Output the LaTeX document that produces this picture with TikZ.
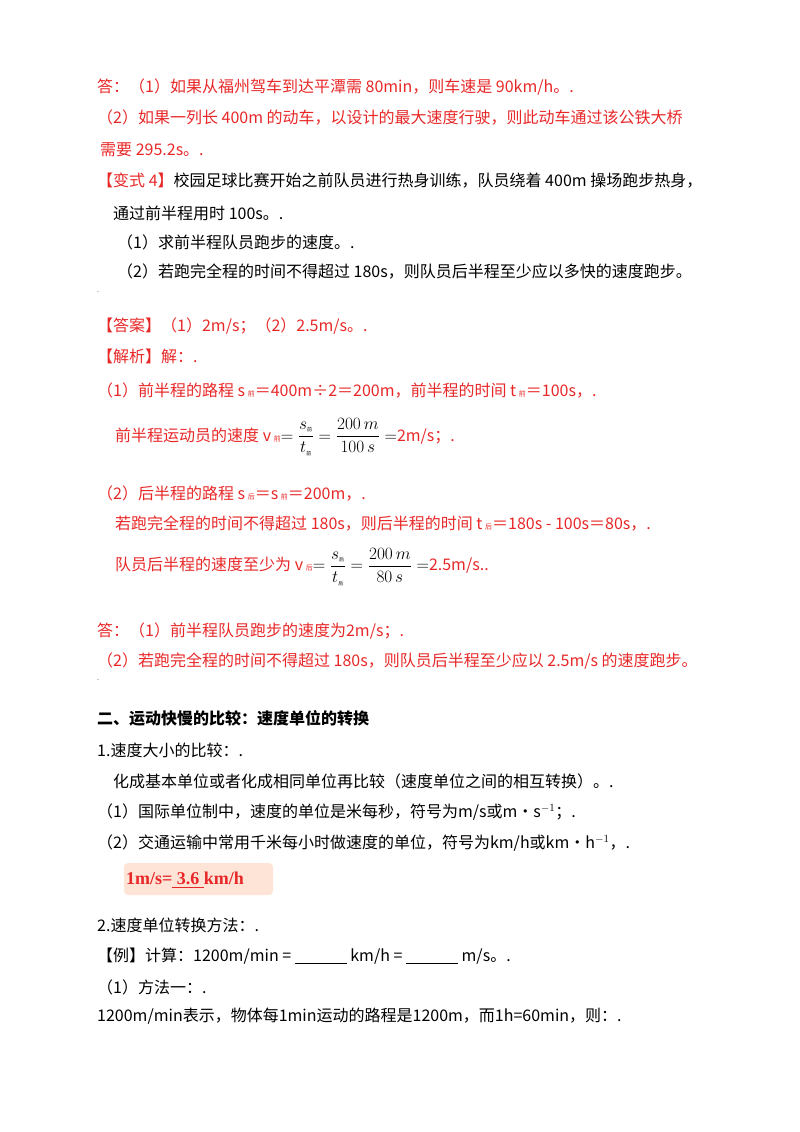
\documentclass[tikz,border=0pt]{standalone}
\usepackage{fontspec}
\setmainfont{Noto Sans CJK SC}
\newfontfamily\lat{Liberation Serif}
\usepackage{amsmath}
\definecolor{rd}{RGB}{232,40,40}
\definecolor{bx}{RGB}{253,228,214}
\begin{document}
\begin{tikzpicture}[x=1pt,y=-1pt,
  t/.style={anchor=west,inner sep=0pt,font=\fontsize{16}{18}\selectfont},
  r/.style={t,text=rd}]
\useasboundingbox (0,0) rectangle (800,1132);
\node[r] (l1) at (97,87) {答：（1）如果从福州驾车到达平潭需 80min，则车速是 90km/h。.};
\node[r] (l2) at (97,118) {（2）如果一列长 400m 的动车，以设计的最大速度行驶，则此动车通过该公铁大桥};
\node[r] (l3) at (100,150) {需要 295.2s。.};
\node[t] (l4) at (97,181) {\textcolor{rd}{【变式 4】}校园足球比赛开始之前队员进行热身训练，队员绕着 400m 操场跑步热身，};
\node[t] (l5) at (113,213) {通过前半程用时 100s。.};
\node[t] (l6) at (117,242) {（1）求前半程队员跑步的速度。.};
\node[t] (l7) at (117,272) {（2）若跑完全程的时间不得超过 180s，则队员后半程至少应以多快的速度跑步。};
\node[t,font=\scriptsize] (d1) at (97,292) {.};
\node[r] (a1) at (97,326) {【答案】（1）2m/s；（2）2.5m/s。.};
\node[r] (a2) at (97,356) {【解析】解：.};
\node[r] (a3) at (97,391) {（1）前半程的路程 s\,{\scriptsize 前}＝400m÷2＝200m，前半程的时间 t\,{\scriptsize 前}＝100s，.};
\node[r] (a4) at (115,437) {前半程运动员的速度 v\,{\scriptsize 前}\textcolor{black}{$=\dfrac{s_{\mbox{\tiny 前}}}{t_{\mbox{\tiny 前}}}=\dfrac{200\,m}{100\,s}=$}2m/s；.};
\node[r] (a5) at (97,494) {（2）后半程的路程 s\,{\scriptsize 后}＝s\,{\scriptsize 前}＝200m，.};
\node[r] (a6) at (115,524) {若跑完全程的时间不得超过 180s，则后半程的时间 t\,{\scriptsize 后}＝180s - 100s＝80s，.};
\node[r] (a7) at (115,567) {队员后半程的速度至少为 v\,{\scriptsize 后}\textcolor{black}{$=\dfrac{s_{\mbox{\tiny 后}}}{t_{\mbox{\tiny 后}}}=\dfrac{200\,m}{80\,s}=$}2.5m/s..};
\node[r] (a8) at (97,631) {答：（1）前半程队员跑步的速度为2m/s；.};
\node[r] (a9) at (97,661) {（2）若跑完全程的时间不得超过 180s，则队员后半程至少应以 2.5m/s 的速度跑步。};
\node[t,font=\scriptsize] (d2) at (97,680) {.};
\node[t,font=\fontsize{16}{18}\selectfont\bfseries] (h1) at (97,718) {二、运动快慢的比较：速度单位的转换};
\node[t] (b1) at (97,750) {1.速度大小的比较：.};
\node[t] (b2) at (113,781) {化成基本单位或者化成相同单位再比较（速度单位之间的相互转换）。.};
\node[t] (b3) at (97,812) {（1）国际单位制中，速度的单位是米每秒，符号为m/s或m•s$^{-1}$；.};
\node[t] (b4) at (97,843) {（2）交通运输中常用千米每小时做速度的单位，符号为km/h或km•h$^{-1}$，.};
\fill[bx,rounded corners=4pt] (124,863) rectangle (273,895);
\node[t,text=rd,font=\lat\fontsize{18}{20}\selectfont\bfseries] (bx) at (126,880) {1m/s=\underline{\ 3.6\ }km/h};
\node[t] (b5) at (97,925) {2.速度单位转换方法：.};
\node[t] (b6) at (97,956) {【例】计算：1200m/min = \rule[-2pt]{52pt}{0.8pt} km/h = \rule[-2pt]{52pt}{0.8pt} m/s。.};
\node[t] (b7) at (97,987) {（1）方法一：.};
\node[t] (b8) at (97,1016) {1200m/min表示，物体每1min运动的路程是1200m，而1h=60min，则：.};
\end{tikzpicture}
\end{document}
